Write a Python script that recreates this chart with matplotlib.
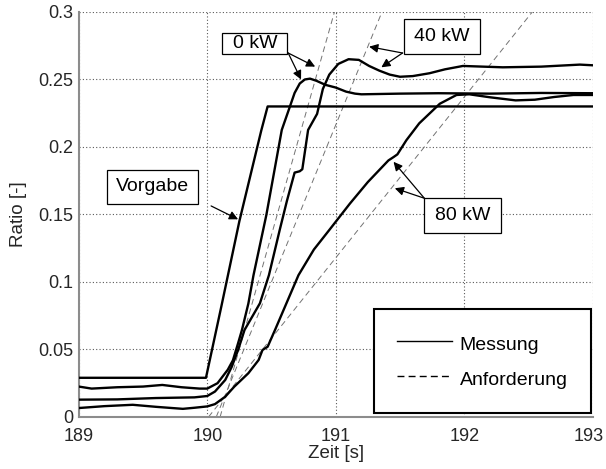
import numpy as np
import matplotlib.pyplot as plt
import matplotlib.transforms as mtransforms
from matplotlib.lines import Line2D
from matplotlib.patches import Rectangle

plt.rcParams['font.family'] = ['Liberation Sans', 'DejaVu Sans']

# Vorgabe (setpoint)
t_vorgabe = [189.0, 189.99, 190.11, 190.25, 190.42, 190.47, 193.0]
r_vorgabe = [0.029, 0.029, 0.082, 0.145, 0.212, 0.230, 0.230]

# Messung 0 kW
t_0kw = [189.0, 189.1, 189.3, 189.5, 189.65, 189.8, 189.94, 190.0, 190.08, 190.16,
         190.2, 190.24, 190.27, 190.32, 190.36, 190.46, 190.58, 190.64, 190.68, 190.72,
         190.76, 190.8, 190.85, 190.92, 191.0, 191.08, 191.15, 191.2, 191.5, 191.8,
         192.2, 192.6, 193.0]
r_0kw = [0.0225, 0.021, 0.022, 0.0225, 0.0237, 0.022, 0.021, 0.021, 0.025, 0.035,
         0.042, 0.0546, 0.0644, 0.084, 0.105, 0.1496, 0.2126, 0.229, 0.240, 0.247,
         0.250, 0.2506, 0.249, 0.246, 0.244, 0.241, 0.2395, 0.239, 0.2395, 0.2398,
         0.2395, 0.240, 0.2398]

# Messung 40 kW
t_40kw = [189.0, 189.3, 189.6, 189.9, 190.0, 190.06, 190.14, 190.19, 190.24, 190.29,
          190.41, 190.48, 190.564, 190.62, 190.68, 190.72, 190.74, 190.785, 190.855, 190.9,
          190.95, 191.02, 191.1, 191.18, 191.26, 191.34, 191.42, 191.5, 191.6, 191.73,
          191.85, 191.99, 192.3, 192.6, 192.9, 193.0]
r_40kw = [0.0128, 0.013, 0.014, 0.0145, 0.0155, 0.0188, 0.0274, 0.037, 0.0496, 0.0644,
          0.0842, 0.105, 0.1385, 0.16, 0.181, 0.182, 0.1835, 0.2126, 0.2245, 0.243,
          0.2536, 0.2615, 0.265, 0.2645, 0.260, 0.2565, 0.2536, 0.252, 0.2525, 0.2546,
          0.2575, 0.260, 0.259, 0.2595, 0.261, 0.2605]

# Messung 80 kW
t_80kw = [189.0, 189.2, 189.42, 189.6, 189.81, 189.9, 190.0, 190.06, 190.14, 190.21,
          190.32, 190.4, 190.43, 190.47, 190.53, 190.62, 190.71, 190.83, 190.95, 191.11,
          191.25, 191.41, 191.45, 191.48, 191.55, 191.65, 191.81, 191.94, 192.04, 192.2,
          192.4, 192.55, 192.7, 192.85, 193.0]
r_80kw = [0.0066, 0.008, 0.009, 0.0075, 0.006, 0.0068, 0.0078, 0.0095, 0.015, 0.0224,
          0.0324, 0.0422, 0.0496, 0.052, 0.065, 0.085, 0.105, 0.124, 0.1385, 0.158,
          0.174, 0.190, 0.1925, 0.1945, 0.205, 0.2175, 0.232, 0.2385, 0.239, 0.2368,
          0.2345, 0.235, 0.237, 0.2385, 0.2385]

# Anforderung (demand ramps)
t_anf_0kw = [190.10, 190.99]
t_anf_40kw = [190.07, 191.36]
t_anf_80kw = [190.01, 192.53]
r_anf = [0.0, 0.3]

xticks = [189, 190, 191, 192, 193]
yticks = [0, 0.05, 0.1, 0.15, 0.2, 0.25, 0.3]
ytick_labels = ['0', '0.05', '0.1', '0.15', '0.2', '0.25', '0.3']

fig = plt.figure(figsize=(6.06, 4.69), dpi=100)
ax = fig.add_axes([0.130, 0.111, 0.848, 0.8635])

lw_mess = 1.7
for t, r in [(t_vorgabe, r_vorgabe), (t_0kw, r_0kw), (t_40kw, r_40kw), (t_80kw, r_80kw)]:
    ax.plot(t, r, color='k', lw=lw_mess, solid_joinstyle='round', zorder=3)

for t in [t_anf_0kw, t_anf_40kw, t_anf_80kw]:
    ax.plot(t, r_anf, color='0.45', lw=0.7, dashes=(6, 4), zorder=2)

ax.set_xlim(189, 193)
ax.set_ylim(0, 0.3)
ax.set_xticks(xticks)
ax.set_xticklabels([str(x) for x in xticks])
ax.set_yticks(yticks)
ax.set_yticklabels(ytick_labels)
ax.tick_params(length=0, labelsize=13, colors='0.15')
ax.tick_params(axis='x', pad=8)
ax.tick_params(axis='y', pad=4)
ax.grid(True, color='0.35', lw=0.8, linestyle=(0, (1, 2)))
ax.set_axisbelow(True)

# letzte Beschriftung etwas nach links, damit sie nicht abgeschnitten wird
last = ax.get_xticklabels()[-1]
last.set_transform(last.get_transform() +
                   mtransforms.ScaledTranslation(-4 / 100, 0, fig.dpi_scale_trans))

for side in ['top', 'right']:
    ax.spines[side].set_visible(False)
for side in ['left', 'bottom']:
    ax.spines[side].set_color('0.55')
    ax.spines[side].set_linewidth(1.5)

ax.set_xlabel('Zeit [s]', fontsize=13.5, color='0.15', labelpad=0)
ax.set_ylabel('Ratio [-]', fontsize=13.5, color='0.15', labelpad=8)

# Beschriftungen mit Kaesten und Pfeilen
boxes = [
    ('0 kW', 190.37, 0.2765, 0.506, 0.0156),
    ('40 kW', 191.825, 0.2819, 0.59, 0.026),
    ('80 kW', 191.99, 0.149, 0.60, 0.026),
    ('Vorgabe', 189.574, 0.1704, 0.708, 0.0252),
]
for label, xc, yc, w, h in boxes:
    ax.add_patch(Rectangle((xc - w / 2, yc - h / 2), w, h, facecolor='white',
                           edgecolor='k', lw=0.9, zorder=5))
    ax.text(xc, yc, label, ha='center', va='center', fontsize=14, zorder=6)

arrows = [
    ((190.03, 0.1563), (190.24, 0.1464)),
    ((190.63, 0.2696), (190.73, 0.2500)),
    ((190.63, 0.2696), (190.84, 0.2595)),
    ((191.52, 0.2696), (191.26, 0.2743)),
    ((191.52, 0.2696), (191.355, 0.2590)),
    ((191.69, 0.1620), (191.45, 0.1890)),
    ((191.69, 0.1620), (191.46, 0.1694)),
]
for start, tip in arrows:
    ax.annotate('', xy=tip, xytext=start,
                arrowprops=dict(arrowstyle='-|>', color='k', lw=0.9,
                                mutation_scale=13, shrinkA=0, shrinkB=0),
                zorder=6)

handles = [Line2D([], [], color='k', lw=1.0),
           Line2D([], [], color='k', lw=1.0, dashes=(5, 3))]
leg = ax.legend(handles, ['Messung', 'Anforderung'], loc='lower right',
                bbox_to_anchor=(0.9967, 0.009), borderaxespad=0, fontsize=14,
                handlelength=2.8, handletextpad=0.4, labelspacing=0.6,
                handleheight=1.45, borderpad=1.2, fancybox=False, framealpha=1)
leg.get_frame().set_edgecolor('k')
leg.get_frame().set_linewidth(1.5)
leg.set_zorder(7)

fig.savefig('out.png', dpi=100)
